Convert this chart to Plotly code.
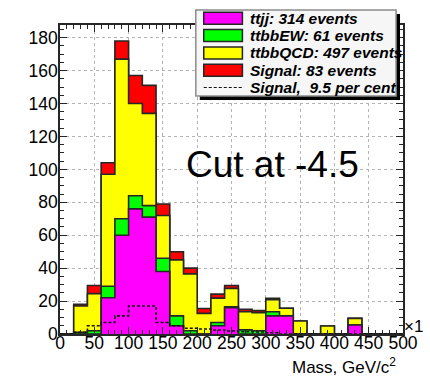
import plotly.graph_objects as go

# Binning: 25 bins of 20 GeV/c^2 from 0 to 500
bin_edges = list(range(0, 520, 20))

# Per-bin event counts for each stacked component
ttjj = [0, 0, 0, 22, 60, 76, 71, 38, 5, 0, 0, 5, 16, 0, 0, 11, 11, 0, 0, 0, 0, 5.5, 0, 0, 0]
ttbb_ew = [0, 1, 2, 7, 10, 8, 7, 8, 6, 2, 0, 2, 0.5, 2.5, 2, 2.5, 0, 0, 0, 0, 0, 0, 0, 0, 0]
ttbb_qcd = [0, 16, 22.5, 68, 97, 56, 56, 26, 34, 34.5, 12.5, 14.8, 11.2, 11.1, 11, 7.4, 4.6, 7.9, 0, 4.9, 0, 4, 0, 0, 0]
signal = [0, 1, 5, 7, 11, 17, 17, 7, 5, 3.5, 3, 2.4, 1.8, 1.4, 1.2, 0.8, 0, 0, 0, 0, 0, 0, 0, 0, 0]

legend_labels = ["ttjj: 314 events", "ttbbEW: 61 events", "ttbbQCD: 497 events",
                 "Signal: 83 events", "Signal,  9.5 per cent"]
fill_colors = ["#ff00ff", "#00ff00", "#ffff00", "#ff0000"]

x_ticks = list(range(0, 550, 50))
y_ticks = list(range(0, 200, 20))

FONT = "Liberation Sans, Arial, Helvetica, sans-serif"
EDGE = "#262626"

# cumulative stack levels
layers = [ttjj, ttbb_ew, ttbb_qcd, signal]
cum = []
run = [0.0] * len(ttjj)
for comp in layers:
    run = [a + b for a, b in zip(run, comp)]
    cum.append(run)


def steps(vals):
    return list(vals) + [vals[-1]]


fig = go.Figure()
# draw from the highest cumulative level down so lower fills sit on top
for level, color in reversed(list(zip(cum, fill_colors))):
    fig.add_trace(go.Scatter(
        x=bin_edges, y=steps(level), mode="lines", line_shape="hv",
        line=dict(color=EDGE, width=1.6), fill="tozeroy", fillcolor=color,
        showlegend=False, hoverinfo="skip"))

# unstacked signal outline
fig.add_trace(go.Scatter(
    x=bin_edges, y=steps(signal), mode="lines", line_shape="hv",
    line=dict(color="#111", width=1.6, dash="3px,2px"),
    showlegend=False, hoverinfo="skip"))

# plot frame geometry in pixels
L, R, T, B = 60, 24, 25, 48
W, H = 430, 382
pw, ph = W - L - R, H - T - B


def px(xp):
    return (xp - L) / pw


def py(yp):
    return (H - B - yp) / ph


shapes = []
annotations = []

# legend box with drop shadow
shapes.append(dict(type="rect", xref="paper", yref="paper",
                   x0=px(201), x1=px(403), y0=py(100), y1=py(14),
                   fillcolor="#000", line=dict(width=0)))
shapes.append(dict(type="rect", xref="paper", yref="paper",
                   x0=px(197), x1=px(399), y0=py(96), y1=py(10),
                   fillcolor="#f6f6f6", line=dict(color="#8c8c8c", width=1.5)))
row_c = [18.3 + 17.3 * i for i in range(5)]
for i, color in enumerate(fill_colors):
    shapes.append(dict(type="rect", xref="paper", yref="paper",
                       x0=px(205), x1=px(244), y0=py(row_c[i] + 6), y1=py(row_c[i] - 6),
                       fillcolor=color, line=dict(color=EDGE, width=1.5)))
shapes.append(dict(type="line", xref="paper", yref="paper",
                   x0=px(205), x1=px(244), y0=py(row_c[4]), y1=py(row_c[4]),
                   line=dict(color="#111", width=1.2, dash="3px,2px")))
for i, label in enumerate(legend_labels):
    annotations.append(dict(xref="paper", yref="paper", x=px(250), y=py(row_c[i]),
                            xanchor="left", yanchor="middle", showarrow=False, text=label,
                            font=dict(family=FONT, size=15.5, color="#000",
                                      style="italic", weight="bold")))

annotations.append(dict(xref="paper", yref="paper", x=px(274), y=py(164),
                        xanchor="center", yanchor="middle", showarrow=False,
                        text="Cut at -4.5", font=dict(family=FONT, size=37, color="#000")))
annotations.append(dict(xref="paper", yref="paper", x=px(405), y=py(326),
                        xanchor="left", yanchor="middle", showarrow=False,
                        text="×1", font=dict(family=FONT, size=17, color="#000")))
annotations.append(dict(xref="paper", yref="paper", x=px(401), y=py(366),
                        xanchor="right", yanchor="middle", showarrow=False,
                        text="Mass, GeV/c<sup>2</sup>", font=dict(family=FONT, size=17, color="#000")))

axis_common = dict(
    showline=True, linecolor=EDGE, linewidth=1.5, mirror="allticks",
    ticks="inside", ticklen=7, tickwidth=1, tickcolor=EDGE,
    showgrid=True, gridcolor="#b4b4b4", gridwidth=1, griddash="dot",
    zeroline=False, tickfont=dict(family=FONT, size=17.5, color="#000"),
)

fig.update_layout(
    width=W, height=H,
    margin=dict(l=L, r=R, t=T, b=B),
    paper_bgcolor="#ffffff", plot_bgcolor="#ffffff",
    xaxis=dict(range=[0, 500], tickvals=x_ticks, ticktext=[str(v) for v in x_ticks],
               ticklabelstandoff=-8,
               minor=dict(dtick=10, tick0=0, ticks="inside", ticklen=4, tickcolor=EDGE, showgrid=False),
               **axis_common),
    yaxis=dict(range=[0, 187.7], tickvals=y_ticks, ticktext=[str(v) for v in y_ticks],
               ticklabelstandoff=-3,
               minor=dict(dtick=5, tick0=0, ticks="inside", ticklen=4, tickcolor=EDGE, showgrid=False),
               **axis_common),
    shapes=shapes, annotations=annotations,
)

fig.write_html("out.html")
